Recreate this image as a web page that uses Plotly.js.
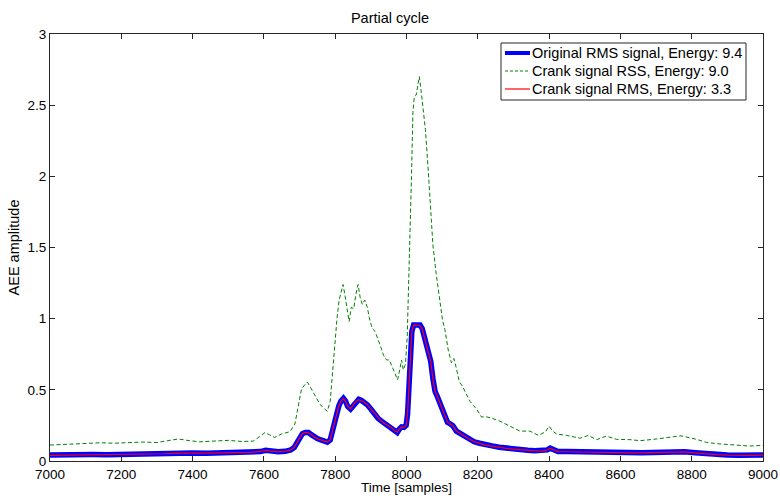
<!DOCTYPE html>
<html>
<head>
<meta charset="utf-8">
<script src="https://cdn.plot.ly/plotly-3.0.1.min.js"></script>
<style>
  html, body { margin: 0; padding: 0; background: #fff; }
  #chart { width: 780px; height: 496px; }
</style>
</head>
<body>
<div id="chart"></div>
<script>
// Original RMS signal (samples, amplitude)
const rmsSamples = [7000, 7040, 7080, 7120, 7160, 7200, 7240, 7280, 7320, 7360, 7400, 7440, 7480, 7520, 7560, 7590, 7605, 7620, 7640, 7660, 7675, 7685, 7692, 7700, 7708, 7716, 7725, 7733, 7741, 7750, 7760, 7770, 7778, 7786, 7792, 7798, 7804, 7810, 7816, 7823, 7829, 7835, 7843, 7850, 7858, 7866, 7874, 7882, 7890, 7900, 7910, 7920, 7930, 7940, 7950, 7960, 7968, 7974, 7980, 7986, 7993, 7999, 8003, 8007, 8011, 8015, 8020, 8026, 8032, 8038, 8044, 8050, 8056, 8062, 8068, 8074, 8080, 8087, 8094, 8101, 8108, 8115, 8122, 8130, 8140, 8150, 8160, 8175, 8190, 8205, 8220, 8240, 8260, 8280, 8300, 8320, 8340, 8360, 8380, 8395, 8403, 8412, 8425, 8450, 8480, 8510, 8540, 8570, 8600, 8630, 8660, 8690, 8720, 8750, 8780, 8810, 8840, 8870, 8900, 8930, 8960, 9000];
const rmsOriginal = [0.042, 0.040, 0.043, 0.045, 0.044, 0.047, 0.048, 0.050, 0.052, 0.055, 0.056, 0.055, 0.058, 0.058, 0.060, 0.066, 0.075, 0.068, 0.065, 0.068, 0.077, 0.095, 0.124, 0.170, 0.192, 0.200, 0.200, 0.185, 0.170, 0.158, 0.148, 0.138, 0.132, 0.148, 0.210, 0.285, 0.340, 0.385, 0.420, 0.440, 0.420, 0.383, 0.365, 0.390, 0.420, 0.433, 0.425, 0.415, 0.395, 0.365, 0.330, 0.300, 0.280, 0.262, 0.248, 0.232, 0.210, 0.200, 0.225, 0.240, 0.237, 0.250, 0.330, 0.560, 0.780, 0.910, 0.955, 0.958, 0.955, 0.955, 0.930, 0.870, 0.820, 0.760, 0.700, 0.580, 0.490, 0.450, 0.405, 0.370, 0.320, 0.272, 0.262, 0.248, 0.210, 0.195, 0.176, 0.155, 0.135, 0.125, 0.113, 0.106, 0.097, 0.090, 0.083, 0.079, 0.075, 0.072, 0.070, 0.078, 0.090, 0.078, 0.067, 0.066, 0.064, 0.065, 0.063, 0.057, 0.058, 0.058, 0.058, 0.059, 0.061, 0.064, 0.065, 0.058, 0.050, 0.046, 0.042, 0.040, 0.041, 0.042];

// Crank signal RMS
const rmsCrank = [0.040, 0.041, 0.042, 0.046, 0.045, 0.046, 0.049, 0.050, 0.051, 0.056, 0.055, 0.056, 0.057, 0.059, 0.060, 0.067, 0.074, 0.069, 0.064, 0.069, 0.076, 0.096, 0.126, 0.168, 0.193, 0.201, 0.198, 0.186, 0.169, 0.157, 0.149, 0.137, 0.133, 0.150, 0.212, 0.283, 0.342, 0.386, 0.421, 0.438, 0.418, 0.385, 0.366, 0.391, 0.419, 0.431, 0.424, 0.413, 0.394, 0.364, 0.331, 0.301, 0.279, 0.261, 0.247, 0.231, 0.211, 0.202, 0.224, 0.238, 0.236, 0.252, 0.335, 0.565, 0.782, 0.912, 0.953, 0.956, 0.953, 0.952, 0.928, 0.868, 0.818, 0.758, 0.698, 0.578, 0.492, 0.451, 0.404, 0.368, 0.318, 0.273, 0.261, 0.247, 0.211, 0.194, 0.175, 0.154, 0.136, 0.124, 0.112, 0.105, 0.096, 0.089, 0.084, 0.078, 0.074, 0.071, 0.069, 0.077, 0.088, 0.077, 0.066, 0.065, 0.063, 0.064, 0.062, 0.056, 0.057, 0.057, 0.057, 0.058, 0.060, 0.063, 0.064, 0.057, 0.049, 0.045, 0.041, 0.039, 0.040, 0.041];

// Crank signal RSS
const rssSamples = [7000, 7030, 7060, 7100, 7140, 7180, 7220, 7260, 7300, 7330, 7360, 7390, 7420, 7460, 7500, 7540, 7570, 7590, 7603, 7615, 7630, 7650, 7673, 7687, 7697, 7705, 7713, 7722, 7730, 7739, 7748, 7757, 7768, 7778, 7786, 7793, 7799, 7805, 7811, 7817, 7822, 7827, 7833, 7839, 7845, 7852, 7858, 7864, 7870, 7876, 7883, 7890, 7897, 7904, 7912, 7920, 7928, 7936, 7944, 7952, 7960, 7968, 7975, 7981, 7986, 7991, 7997, 8002, 8006, 8010, 8014, 8018, 8022, 8027, 8032, 8036, 8041, 8047, 8053, 8060, 8067, 8074, 8083, 8093, 8101, 8108, 8117, 8126, 8133, 8139, 8148, 8158, 8168, 8178, 8188, 8198, 8210, 8225, 8240, 8262, 8290, 8318, 8346, 8370, 8390, 8400, 8410, 8421, 8449, 8487, 8510, 8533, 8561, 8589, 8627, 8655, 8692, 8730, 8770, 8814, 8842, 8879, 8926, 8963, 9000];
const rssCrank = [0.112, 0.115, 0.118, 0.120, 0.128, 0.125, 0.130, 0.133, 0.130, 0.140, 0.155, 0.143, 0.135, 0.140, 0.145, 0.137, 0.140, 0.175, 0.200, 0.185, 0.165, 0.190, 0.206, 0.260, 0.400, 0.500, 0.530, 0.555, 0.520, 0.480, 0.430, 0.400, 0.370, 0.350, 0.420, 0.650, 0.830, 1.000, 1.130, 1.200, 1.240, 1.170, 1.070, 0.980, 1.080, 1.070, 1.170, 1.240, 1.150, 1.100, 1.130, 1.080, 0.990, 0.930, 0.910, 0.860, 0.800, 0.740, 0.710, 0.710, 0.660, 0.600, 0.570, 0.640, 0.710, 0.640, 0.680, 0.870, 1.200, 1.650, 2.000, 2.450, 2.560, 2.570, 2.640, 2.700, 2.600, 2.480, 2.330, 2.080, 1.820, 1.520, 1.320, 1.140, 0.990, 0.920, 0.780, 0.690, 0.720, 0.660, 0.560, 0.520, 0.470, 0.420, 0.390, 0.360, 0.310, 0.310, 0.300, 0.280, 0.245, 0.210, 0.210, 0.180, 0.205, 0.245, 0.210, 0.190, 0.180, 0.160, 0.180, 0.150, 0.175, 0.152, 0.150, 0.143, 0.152, 0.164, 0.177, 0.152, 0.130, 0.120, 0.112, 0.105, 0.110];

const seriesNames = ['Original RMS signal, Energy: 9.4', 'Crank signal RSS, Energy: 9.0', 'Crank signal RMS, Energy: 3.3'];

const xTicks = [7000, 7200, 7400, 7600, 7800, 8000, 8200, 8400, 8600, 8800, 9000];
const yTicks = [0, 0.5, 1, 1.5, 2, 2.5, 3];
const yTickText = ['0', '0.5', '1', '1.5', '2', '2.5', '3'];
const xTitle = 'Time [samples]';

const font = 'Liberation Sans, Arial, sans-serif';
const fs = 14.5;

const lineStyles = [
  { color: '#0000ff', width: 5.5 },
  { color: '#008000', width: 1, dash: '4px,2.5px' },
  { color: '#ff0000', width: 1.2 }
];
const legendLineStyles = [
  { color: '#0000ff', width: 4 },
  { color: '#008000', width: 1, dash: '3px,2px' },
  { color: '#ff0000', width: 1.2 }
];

const traces = [
  { x: rmsSamples, y: rmsOriginal, type: 'scatter', mode: 'lines', name: seriesNames[0], line: lineStyles[0] },
  { x: rssSamples, y: rssCrank, type: 'scatter', mode: 'lines', name: seriesNames[1], line: lineStyles[1] },
  { x: rmsSamples, y: rmsCrank, type: 'scatter', mode: 'lines', name: seriesNames[2], line: lineStyles[2] }
];

// Compact boxed legend in the upper right corner, placed in paper units
const W = 780, H = 496, M = { l: 50, r: 17, t: 34, b: 35 };
const plotW = W - M.l - M.r, plotH = H - M.t - M.b;
const px = v => (v - M.l) / plotW;
const py = v => (H - M.b - v) / plotH;

const box = { left: 501, right: 746, top: 43, bottom: 100 };
const rowY = [53, 71, 89];
const shapes = [{
  type: 'rect', xref: 'paper', yref: 'paper',
  x0: px(box.left), x1: px(box.right), y0: py(box.bottom), y1: py(box.top),
  line: { color: '#262626', width: 1 }, fillcolor: '#ffffff', layer: 'above'
}];
const annotations = [];
rowY.forEach((y, i) => {
  shapes.push({
    type: 'line', xref: 'paper', yref: 'paper',
    x0: px(505), x1: px(530), y0: py(y), y1: py(y),
    line: legendLineStyles[i], layer: 'above'
  });
  annotations.push({
    xref: 'paper', yref: 'paper', x: px(530), y: py(y),
    xanchor: 'left', yanchor: 'middle', showarrow: false,
    text: seriesNames[i], font: { family: font, size: fs, color: '#000' }
  });
});

// x-axis title pinned to the bottom edge of the figure
annotations.push({
  xref: 'paper', yref: 'paper', x: 0.5, y: py(H),
  xanchor: 'center', yanchor: 'bottom', showarrow: false, borderpad: 0,
  text: xTitle, font: { family: font, size: 13.5, color: '#000' }
});

const axisCommon = {
  showgrid: false, zeroline: false,
  showline: true, linecolor: '#262626', linewidth: 1,
  mirror: 'ticks', ticks: 'inside', ticklen: 5, tickcolor: '#262626', tickwidth: 1,
  tickfont: { family: font, size: 13.5, color: '#000' }
};

const layout = {
  width: W, height: H,
  margin: M,
  paper_bgcolor: '#fff', plot_bgcolor: '#fff',
  showlegend: false,
  title: { text: 'Partial cycle', font: { family: font, size: fs, color: '#000' }, x: 0.5, xanchor: 'center', y: 0.963, yanchor: 'middle' },
  xaxis: Object.assign({}, axisCommon, {
    range: [7000, 9000], tickvals: xTicks, ticktext: xTicks.map(String),
    ticklabelstandoff: 1
  }),
  yaxis: Object.assign({}, axisCommon, {
    range: [0, 3], tickvals: yTicks, ticktext: yTickText,
    title: { text: 'AEE amplitude', font: { family: font, size: fs, color: '#000' }, standoff: 4 }
  }),
  shapes: shapes,
  annotations: annotations
};

Plotly.newPlot('chart', traces, layout, { displayModeBar: false, staticPlot: true });
</script>
</body>
</html>
